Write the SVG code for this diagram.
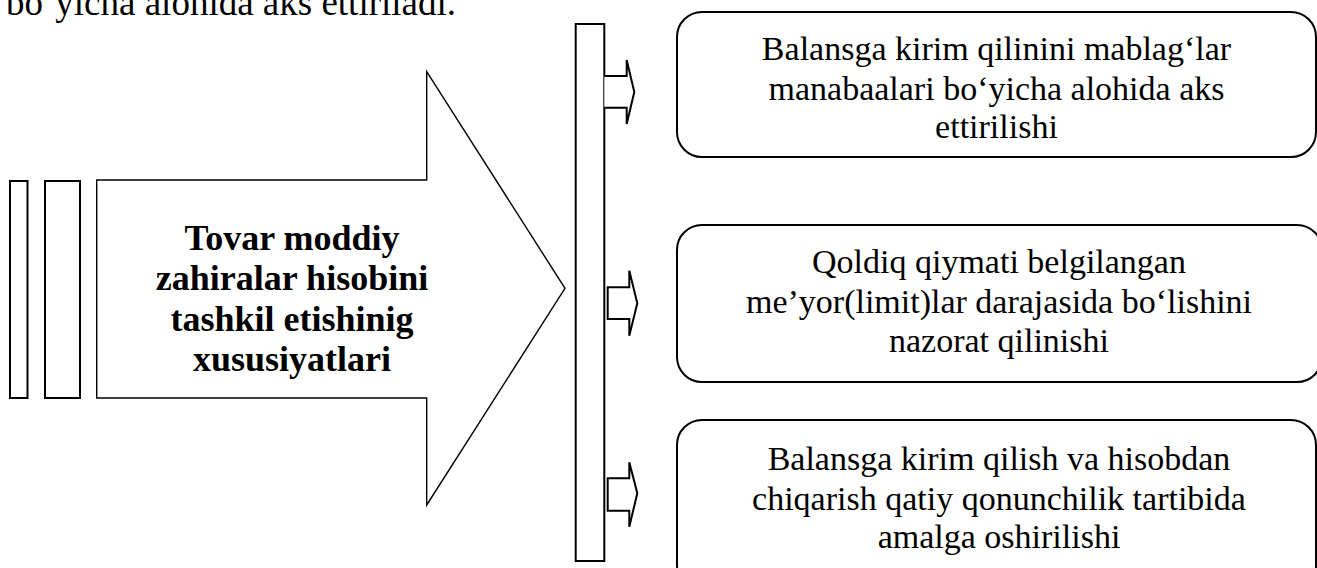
<svg xmlns="http://www.w3.org/2000/svg" width="1317" height="568" viewBox="0 0 1317 568">
  <style>
    .txt { font-family: "Liberation Serif", "Times New Roman", serif; fill: #000; }
    .box { font-size: 34px; text-anchor: middle; }
    .bold { font-size: 36px; font-weight: bold; text-anchor: middle; }
    .shape { fill: #fff; stroke: #000; stroke-width: 2; stroke-linejoin: miter; }
    .thin { fill: #fff; stroke: #000; stroke-width: 1.4; }
    .card { fill: #fff; stroke: #000; stroke-width: 2; }
  </style>
  <rect width="1317" height="568" fill="#fff"/>

  <!-- running text line at the top edge -->
  <text class="txt" x="6" y="15" font-size="37">bo‘yicha alohida aks ettiriladi.</text>

  <!-- main block arrow with the two trailing bars -->
  <g id="main-arrow">
    <rect class="shape" x="10" y="181" width="17.5" height="217"/>
    <rect class="shape" x="45" y="181" width="35" height="217"/>
    <polygon class="thin" points="96.7,180 426.7,180 426.7,71.7 565,288.3 426.7,505 426.7,398 96.7,398"/>
    <text class="txt bold" x="292" y="250">Tovar moddiy</text>
    <text class="txt bold" x="292" y="290">zahiralar hisobini</text>
    <text class="txt bold" x="292" y="331">tashkil etishinig</text>
    <text class="txt bold" x="292" y="371">xususiyatlari</text>
  </g>

  <!-- vertical distribution bar -->
  <g id="bar">
    <rect class="shape" x="575.7" y="24" width="28.6" height="537"/>
  </g>

  <!-- small block arrows from the bar to each card -->
  <g id="connectors">
    <polyline class="shape" points="604.3,76 626.7,76 626.7,60 634.3,92 626.7,124 626.7,107.7 604.3,107.7"/>
    <polygon class="shape" points="607.7,287.3 629.3,287.3 629.3,270.7 637.3,303.3 629.3,335.7 629.3,319 607.7,319"/>
    <polygon class="shape" points="607.7,478.3 629.3,478.3 629.3,462.3 637.3,493.3 629.3,526.7 629.3,510.7 607.7,510.7"/>
  </g>

  <g id="card-1">
    <rect class="card" x="677" y="12" width="639" height="145" rx="25" ry="25"/>
    <text class="txt box" x="996.5" y="60">Balansga kirim qilinini mablag‘lar</text>
    <text class="txt box" x="996.5" y="100">manabaalari bo‘yicha alohida aks</text>
    <text class="txt box" x="996.5" y="138">ettirilishi</text>
  </g>

  <g id="card-2">
    <rect class="card" x="677" y="225" width="645" height="157" rx="25" ry="25"/>
    <text class="txt box" x="999" y="273">Qoldiq qiymati belgilangan</text>
    <text class="txt box" x="999" y="313">me’yor(limit)lar darajasida bo‘lishini</text>
    <text class="txt box" x="999" y="352">nazorat qilinishi</text>
  </g>

  <g id="card-3">
    <rect class="card" x="677" y="420" width="639" height="170" rx="25" ry="25"/>
    <text class="txt box" x="999" y="470">Balansga kirim qilish va hisobdan</text>
    <text class="txt box" x="999" y="510">chiqarish qatiy qonunchilik tartibida</text>
    <text class="txt box" x="999" y="548">amalga oshirilishi</text>
  </g>
</svg>
